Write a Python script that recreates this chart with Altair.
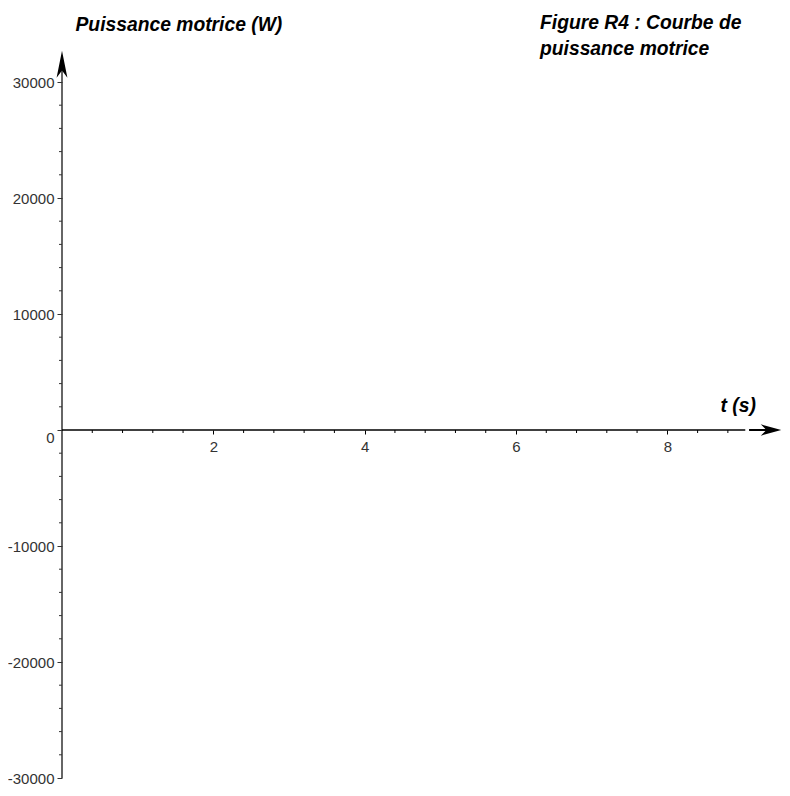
import altair as alt
import pandas as pd

# ---- data ----
x_domain = [0, 9]
y_domain = [-30000, 30000]
x_ticks = [2, 4, 6, 8]
x_minor = [0.4, 0.8, 1.2, 1.6, 2.4, 2.8, 3.2, 3.6, 4.4, 4.8, 5.2, 5.6,
           6.4, 6.8, 7.2, 7.6, 8.4, 8.8]
y_ticks = [-30000, -20000, -10000, 0, 10000, 20000, 30000]
y_minor = [-28000, -26000, -24000, -22000, -18000, -16000, -14000, -12000,
           -8000, -6000, -4000, -2000, 2000, 4000, 6000, 8000,
           12000, 14000, 16000, 18000, 22000, 24000, 26000, 28000]
caption_line1 = ["Figure R4 : Courbe de"]
caption_line2 = ["puissance motrice"]
# axis lines and arrows (data coordinates)
y_line = [-30000, 31500]
x_line = [0, 9.03]
x_arrow_line = [9.08, 9.33]
y_head = 31520
x_head = 9.37

FONT = "Liberation Sans"
LABEL_COLOR = "#333333"
W, H = 681, 696

xs = alt.Scale(domain=x_domain, nice=False, zero=False)
ys = alt.Scale(domain=y_domain, nice=False, zero=False)

x_axis = alt.Axis(
    values=x_ticks, orient="bottom", offset=-H / 2, domain=False,
    labelExpr="datum.value + ''",
    tickSize=4, tickColor="#000", tickWidth=1, labelPadding=5,
    labelFont=FONT, labelFontSize=15, labelColor=LABEL_COLOR,
    grid=False, title="t (s)", titleFont=FONT, titleFontSize=19.3,
    titleFontStyle="italic", titleFontWeight="bold", titleColor="#000",
    titleAlign="left", titleBaseline="alphabetic", titleX=658, titleY=-19,
    titleAngle=0,
)
y_axis = alt.Axis(
    values=y_ticks, orient="left", domain=False,
    labelExpr="datum.value + ''",
    tickSize=5, tickColor="#333", tickWidth=1, labelPadding=3,
    labelFont=FONT, labelFontSize=15, labelColor=LABEL_COLOR,
    labelBaseline={"condition": {"test": "datum.value === 0", "value": "top"},
                   "value": "middle"},
    grid=False, title="Puissance motrice (W)", titleFont=FONT, titleFontSize=19.3,
    titleFontStyle="italic", titleFontWeight="bold", titleColor="#000",
    titleAlign="left", titleBaseline="alphabetic", titleAngle=0,
    titleX=13, titleY=-52,
)

# vertical axis line (carries both axes)
yline_df = pd.DataFrame({"x": [0], "y": [y_line[0]], "y2": [y_line[1]]})
yline = alt.Chart(yline_df).mark_rule(color="#333", strokeWidth=1.5).encode(
    x=alt.X("x:Q", scale=xs, axis=x_axis),
    y=alt.Y("y:Q", scale=ys, axis=y_axis),
    y2="y2:Q",
)

xline_df = pd.DataFrame({"x": [x_line[0]], "x2": [x_line[1]], "y": [0]})
xline = alt.Chart(xline_df).mark_rule(color="#000", strokeWidth=1.5).encode(
    x=alt.X("x:Q", scale=xs), x2="x2:Q", y=alt.Y("y:Q", scale=ys)
)

xarr_df = pd.DataFrame({"x": [x_arrow_line[0]], "x2": [x_arrow_line[1]], "y": [0]})
xarr = alt.Chart(xarr_df).mark_rule(color="#000", strokeWidth=2).encode(
    x=alt.X("x:Q", scale=xs), x2="x2:Q", y=alt.Y("y:Q", scale=ys)
)

# minor ticks
xm_df = pd.DataFrame({"x": x_minor})
xminor = alt.Chart(xm_df).mark_rule(color="#000", strokeWidth=1, y2Offset=3).encode(
    x=alt.X("x:Q", scale=xs), y=alt.YDatum(0), y2=alt.datum(0)
)

ym_df = pd.DataFrame({"y": y_minor})
yminor = alt.Chart(ym_df).mark_rule(color="#333", strokeWidth=1, x2Offset=-3).encode(
    y=alt.Y("y:Q", scale=ys), x=alt.XDatum(0), x2=alt.datum(0)
)

# arrow heads
up_path = "M0,-1L0.4,1L0,0.45L-0.4,1Z"
right_path = "M1,0L-1,0.55L-0.45,0L-1,-0.55Z"
yhead = alt.Chart(pd.DataFrame({"x": [0], "y": [y_head]})).mark_point(
    shape=up_path, size=729, filled=True, color="#000", opacity=1
).encode(x=alt.X("x:Q", scale=xs), y=alt.Y("y:Q", scale=ys))
xhead = alt.Chart(pd.DataFrame({"x": [x_head], "y": [0]})).mark_point(
    shape=right_path, size=420, filled=True, color="#000", opacity=1
).encode(x=alt.X("x:Q", scale=xs), y=alt.Y("y:Q", scale=ys))

# caption (top right)
cap_style = dict(align="left", baseline="alphabetic", font=FONT, fontSize=19.3,
                 fontStyle="italic", fontWeight="bold", color="#000")
cap1 = alt.Chart(pd.DataFrame({"text": caption_line1})).mark_text(**cap_style).encode(
    text="text:N", x=alt.value(478), y=alt.value(-53)
)
cap2 = alt.Chart(pd.DataFrame({"text": caption_line2})).mark_text(**cap_style).encode(
    text="text:N", x=alt.value(478), y=alt.value(-27)
)

chart = alt.layer(yline, xline, xarr, xminor, yminor, yhead, xhead, cap1, cap2).properties(
    width=W, height=H,
    padding={"left": 54, "top": 74, "right": 39, "bottom": 10},
    autosize=alt.AutoSizeParams(type="none"),
).configure(background="white").configure_view(strokeWidth=0)

chart.save("out.html", embed_options={"renderer": "svg", "actions": False})
